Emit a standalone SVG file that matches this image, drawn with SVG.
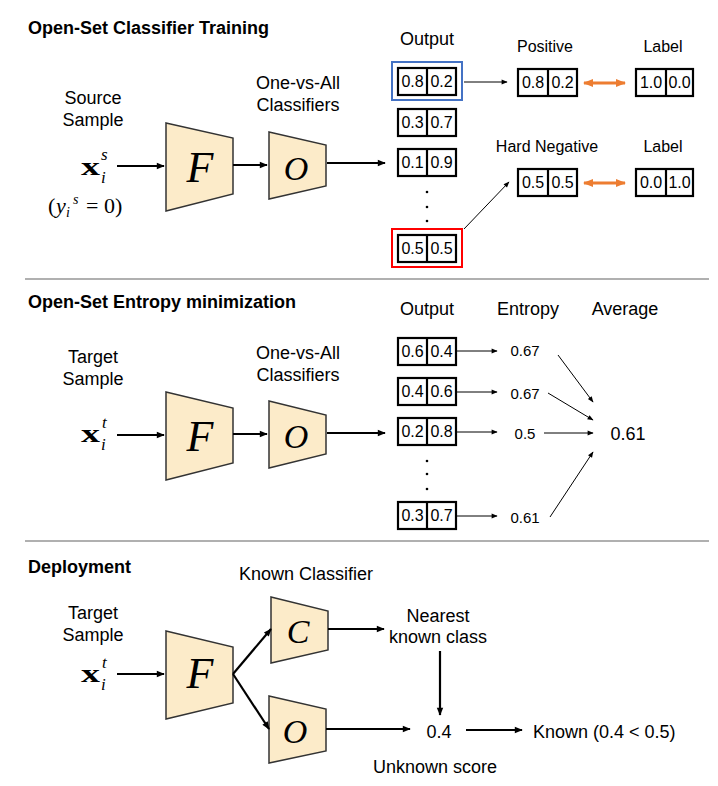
<svg xmlns="http://www.w3.org/2000/svg" width="718" height="786" viewBox="0 0 718 786">
<style>
.t{font-family:"Liberation Sans",Arial,sans-serif;font-size:18px;fill:#000}
.h{font-family:"Liberation Sans",Arial,sans-serif;font-size:18px;font-weight:bold;fill:#000}
.s{font-family:"Liberation Sans",Arial,sans-serif;font-size:16px;fill:#000}
.e{font-family:"Liberation Sans",Arial,sans-serif;font-size:15px;fill:#000}
.c{font-family:"Liberation Sans",Arial,sans-serif;font-size:16px;fill:#000;text-anchor:middle}
.mid{text-anchor:middle}
.m{font-family:"Liberation Serif","Times New Roman",serif;fill:#000}
.mb{font-family:"Liberation Serif","Times New Roman",serif;font-weight:bold;fill:#000}
.mi{font-family:"Liberation Serif","Times New Roman",serif;font-style:italic;fill:#000}
.trap{fill:#FCEBC9;stroke:#333;stroke-width:1.5}
.cell{fill:#fff;stroke:#000;stroke-width:2.2}
.sep{stroke:#b0b0b0;stroke-width:2}
.a2{stroke:#000;stroke-width:2.2;fill:none;marker-end:url(#ah)}
.a1{stroke:#000;stroke-width:1;fill:none;marker-end:url(#ahs)}
.or{stroke:#ED7D31;stroke-width:3;fill:none;marker-start:url(#aor);marker-end:url(#aor)}
</style>
<defs>
<marker id="ah" viewBox="0 0 10 10" refX="9" refY="5" markerWidth="9" markerHeight="8" markerUnits="userSpaceOnUse" orient="auto"><path d="M0,1 L10,5 L0,9 z" fill="#000"/></marker>
<marker id="ahs" viewBox="0 0 10 10" refX="9" refY="5" markerWidth="7" markerHeight="6" markerUnits="userSpaceOnUse" orient="auto"><path d="M0,1 L10,5 L0,9 z" fill="#000"/></marker>
<marker id="aor" viewBox="0 0 10 10" refX="9" refY="5" markerWidth="10" markerHeight="10" markerUnits="userSpaceOnUse" orient="auto-start-reverse"><path d="M0,1 L10,5 L0,9 z" fill="#ED7D31"/></marker>
</defs>

<!-- separators -->
<line class="sep" x1="25" y1="279" x2="709" y2="279"/>
<line class="sep" x1="25" y1="541" x2="709" y2="541"/>

<!-- ===== Section 1 ===== -->
<text class="h" x="28" y="34">Open-Set Classifier Training</text>
<g id="src-label">
<text class="t mid" x="93" y="104">Source</text>
<text class="t mid" x="93" y="126">Sample</text>
<text class="mb" x="81" y="175" font-size="26" textLength="19" lengthAdjust="spacingAndGlyphs">x</text>
<text class="mi" x="101" y="160" font-size="17">s</text>
<text class="mi" x="101" y="183" font-size="17">i</text>
<text class="m" x="48" y="213" font-size="22">(</text>
<text class="mi" x="56" y="213" font-size="22">y</text>
<text class="mi" x="66" y="217" font-size="14">i</text>
<text class="mi" x="73" y="204" font-size="14">s</text>
<text class="m" x="86" y="213" font-size="22">= 0)</text>
</g>
<g id="F1"><polygon class="trap" points="166,123 233,138 233,194 166,211"/><text class="mi mid" x="200" y="182" font-size="44">F</text></g>
<g id="O1"><polygon class="trap" points="269,132 326,145 326,186 269,199"/><text class="mi mid" x="296" y="180" font-size="34">O</text>
<text class="t mid" x="298" y="89">One-vs-All</text><text class="t mid" x="298" y="111">Classifiers</text></g>
<text class="t mid" x="427" y="45">Output</text>
<g id="out1">
<rect x="392" y="62" width="70" height="38" fill="none" stroke="#4472C4" stroke-width="2"/>
<rect class="cell" x="398" y="68" width="58" height="27"/><line class="cell" x1="427" y1="68" x2="427" y2="95"/>
<text class="c" x="412.5" y="87">0.8</text><text class="c" x="441.5" y="87">0.2</text>
<rect class="cell" x="398" y="109" width="58" height="27"/><line class="cell" x1="427" y1="109" x2="427" y2="136"/>
<text class="c" x="412.5" y="128">0.3</text><text class="c" x="441.5" y="128">0.7</text>
<rect class="cell" x="398" y="149" width="58" height="27"/><line class="cell" x1="427" y1="149" x2="427" y2="176"/>
<text class="c" x="412.5" y="168">0.1</text><text class="c" x="441.5" y="168">0.9</text>
<circle cx="427" cy="192" r="1.3"/><circle cx="427" cy="207" r="1.3"/><circle cx="427" cy="221" r="1.3"/>
<rect x="392" y="229" width="70" height="38" fill="none" stroke="#FF0000" stroke-width="2"/>
<rect class="cell" x="398" y="235" width="58" height="27"/><line class="cell" x1="427" y1="235" x2="427" y2="262"/>
<text class="c" x="412.5" y="254">0.5</text><text class="c" x="441.5" y="254">0.5</text>
</g>
<g id="pos">
<text class="s mid" x="545" y="52">Positive</text>
<rect class="cell" x="518" y="69" width="59" height="27"/><line class="cell" x1="548" y1="69" x2="548" y2="96"/>
<text class="c" x="533" y="88">0.8</text><text class="c" x="562.5" y="88">0.2</text>
</g>
<g id="poslabel">
<text class="s mid" x="663" y="52">Label</text>
<rect class="cell" x="636" y="69" width="57" height="27"/><line class="cell" x1="666" y1="69" x2="666" y2="96"/>
<text class="c" x="651" y="88">1.0</text><text class="c" x="679.5" y="88">0.0</text>
</g>
<g id="neg">
<text class="s mid" x="547" y="152">Hard Negative</text>
<rect class="cell" x="518" y="169" width="59" height="27"/><line class="cell" x1="548" y1="169" x2="548" y2="196"/>
<text class="c" x="533" y="188">0.5</text><text class="c" x="562.5" y="188">0.5</text>
</g>
<g id="neglabel">
<text class="s mid" x="663" y="152">Label</text>
<rect class="cell" x="636" y="169" width="57" height="27"/><line class="cell" x1="666" y1="169" x2="666" y2="196"/>
<text class="c" x="651" y="188">0.0</text><text class="c" x="679.5" y="188">1.0</text>
</g>

<!-- ===== Section 2 ===== -->
<text class="h" x="28" y="308">Open-Set Entropy minimization</text>
<g id="tgt2">
<text class="t mid" x="93" y="363">Target</text>
<text class="t mid" x="93" y="385">Sample</text>
<text class="mb" x="81" y="442" font-size="26" textLength="19" lengthAdjust="spacingAndGlyphs">x</text>
<text class="mi" x="102" y="428" font-size="17">t</text>
<text class="mi" x="101" y="450" font-size="17">i</text>
</g>
<g id="F2"><polygon class="trap" points="166,392 233,408 233,463 166,480"/><text class="mi mid" x="200" y="451" font-size="44">F</text></g>
<g id="O2"><polygon class="trap" points="269,401 326,415 326,454 269,468"/><text class="mi mid" x="296" y="448" font-size="34">O</text>
<text class="t mid" x="298" y="359">One-vs-All</text><text class="t mid" x="298" y="381">Classifiers</text></g>
<text class="t mid" x="427" y="315">Output</text>
<text class="t mid" x="528" y="315">Entropy</text>
<text class="t mid" x="625" y="315">Average</text>
<g id="out2">
<rect class="cell" x="398" y="338" width="58" height="27"/><line class="cell" x1="427" y1="338" x2="427" y2="365"/>
<text class="c" x="412.5" y="357">0.6</text><text class="c" x="441.5" y="357">0.4</text>
<rect class="cell" x="398" y="378" width="58" height="27"/><line class="cell" x1="427" y1="378" x2="427" y2="405"/>
<text class="c" x="412.5" y="397">0.4</text><text class="c" x="441.5" y="397">0.6</text>
<rect class="cell" x="398" y="418" width="58" height="27"/><line class="cell" x1="427" y1="418" x2="427" y2="445"/>
<text class="c" x="412.5" y="437">0.2</text><text class="c" x="441.5" y="437">0.8</text>
<circle cx="427" cy="461" r="1.3"/><circle cx="427" cy="474" r="1.3"/><circle cx="427" cy="489" r="1.3"/>
<rect class="cell" x="398" y="502" width="58" height="27"/><line class="cell" x1="427" y1="502" x2="427" y2="529"/>
<text class="c" x="412.5" y="521">0.3</text><text class="c" x="441.5" y="521">0.7</text>
</g>
<g id="ent">
<text class="e mid" x="525" y="356">0.67</text>
<text class="e mid" x="525" y="399">0.67</text>
<text class="e mid" x="525" y="439">0.5</text>
<text class="e mid" x="525" y="523">0.61</text>
</g>
<g id="avg"><text class="t mid" x="628" y="440">0.61</text></g>

<!-- ===== Section 3 ===== -->
<text class="h" x="28" y="573">Deployment</text>
<g id="tgt3">
<text class="t mid" x="93" y="619">Target</text>
<text class="t mid" x="93" y="641">Sample</text>
<text class="mb" x="81" y="682" font-size="26" textLength="19" lengthAdjust="spacingAndGlyphs">x</text>
<text class="mi" x="102" y="668" font-size="17">t</text>
<text class="mi" x="101" y="690" font-size="17">i</text>
</g>
<g id="F3"><polygon class="trap" points="166,631 233,647 233,703 166,719"/><text class="mi mid" x="200" y="688" font-size="44">F</text></g>
<g id="C3"><polygon class="trap" points="271,597 328,611 328,650 271,663"/><text class="mi mid" x="298" y="643" font-size="34">C</text>
<text class="t mid" x="306" y="580">Known Classifier</text></g>
<g id="O3"><polygon class="trap" points="269,696 326,709 326,751 269,763"/><text class="mi mid" x="295" y="743" font-size="34">O</text></g>
<g id="nearest"><text class="t mid" x="438" y="622">Nearest</text><text class="t mid" x="438" y="643">known class</text></g>
<g id="score"><text class="t mid" x="439" y="738">0.4</text><text class="t mid" x="435" y="773">Unknown score</text></g>
<g id="known"><text class="t" x="533" y="738">Known (0.4 &lt; 0.5)</text></g>

<!-- connectors -->
<g id="connectors">
<line class="a2" x1="117" y1="166" x2="164" y2="166"/>
<line class="a2" x1="233" y1="165" x2="267" y2="165"/>
<line class="a2" x1="327" y1="163" x2="385" y2="163"/>
<line class="a1" x1="464" y1="82" x2="507" y2="82"/>
<line class="a1" x1="464" y1="229" x2="509" y2="182"/>
<line class="or" x1="584" y1="83" x2="625" y2="83"/>
<line class="or" x1="584" y1="183" x2="625" y2="183"/>

<line class="a2" x1="117" y1="435" x2="164" y2="435"/>
<line class="a2" x1="233" y1="434" x2="267" y2="434"/>
<line class="a2" x1="327" y1="433" x2="385" y2="433"/>
<line class="a1" x1="456" y1="351" x2="497" y2="351"/>
<line class="a1" x1="456" y1="392" x2="497" y2="392"/>
<line class="a1" x1="456" y1="432" x2="497" y2="432"/>
<line class="a1" x1="456" y1="516" x2="497" y2="516"/>
<line class="a1" x1="558" y1="355" x2="593" y2="402"/>
<line class="a1" x1="548" y1="393" x2="593" y2="420"/>
<line class="a1" x1="544" y1="433" x2="593" y2="433"/>
<line class="a1" x1="550" y1="517" x2="593" y2="452"/>

<line class="a2" x1="117" y1="674" x2="164" y2="674"/>
<line class="a2" x1="233" y1="674" x2="271" y2="629"/>
<line class="a2" x1="233" y1="674" x2="269" y2="729"/>
<line class="a2" x1="328" y1="629" x2="384" y2="629"/>
<line class="a2" x1="326" y1="729" x2="410" y2="729"/>
<line class="a2" x1="440" y1="651" x2="440" y2="715"/>
<line class="a2" stroke-width="3" x1="466" y1="730" x2="522" y2="730"/>
</g>
</svg>
